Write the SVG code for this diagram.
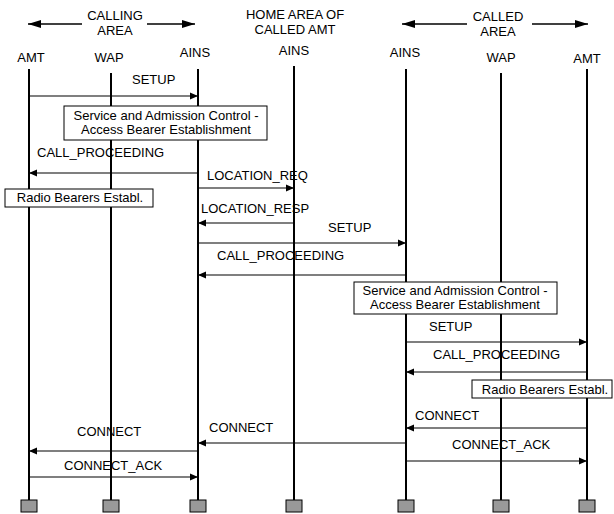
<svg xmlns="http://www.w3.org/2000/svg" width="614" height="514" viewBox="0 0 614 514">
<defs>
<marker id="ah" markerUnits="userSpaceOnUse" markerWidth="9" markerHeight="8" refX="8" refY="4" orient="auto">
<path d="M0,0.5 L8,4 L0,7.5 z" fill="#000"/>
</marker>
<marker id="hh" markerUnits="userSpaceOnUse" markerWidth="14" markerHeight="10" refX="13" refY="5" orient="auto">
<path d="M0,1 L13,5 L0,9 z" fill="#000"/>
</marker>
</defs>
<style>
text{font-family:"Liberation Sans",Arial,sans-serif;font-size:13px;fill:#000}
.c{text-anchor:middle}
.life{stroke:#000;stroke-width:2}
.msg{stroke:#000;stroke-width:1.2;fill:none;marker-end:url(#ah)}
.hdr{stroke:#000;stroke-width:1.5;fill:none;marker-end:url(#hh)}
.foot{fill:#999;stroke:#000;stroke-width:1}
.note{fill:#fff;stroke:#000;stroke-width:1}
</style>
<rect width="614" height="514" fill="#fff"/>
<g id="headers">
<text class="c" x="115" y="20">CALLING</text>
<text class="c" x="115" y="35">AREA</text>
<line class="hdr" x1="82" y1="24" x2="28" y2="24"/>
<line class="hdr" x1="147" y1="24" x2="195" y2="24"/>
<text class="c" x="295" y="19">HOME AREA OF</text>
<text class="c" x="295" y="34">CALLED AMT</text>
<text class="c" x="498" y="21">CALLED</text>
<text class="c" x="498" y="36">AREA</text>
<line class="hdr" x1="467" y1="24" x2="402" y2="24"/>
<line class="hdr" x1="532" y1="24" x2="588" y2="24"/>
</g>
<g id="connectors">
<line class="msg" x1="29" y1="96" x2="198" y2="96"/>
<text x="132" y="84">SETUP</text>
<line class="msg" x1="198" y1="173" x2="29" y2="173"/>
<text x="37" y="157">CALL_PROCEEDING</text>
<line class="msg" x1="198" y1="188" x2="294" y2="188"/>
<text x="207" y="180">LOCATION_REQ</text>
<line class="msg" x1="294" y1="223" x2="198" y2="223"/>
<text x="201" y="213">LOCATION_RESP</text>
<line class="msg" x1="198" y1="243" x2="406" y2="243"/>
<text x="328" y="232">SETUP</text>
<line class="msg" x1="406" y1="275" x2="198" y2="275"/>
<text x="217" y="260">CALL_PROCEEDING</text>
<line class="msg" x1="406" y1="342" x2="587" y2="342"/>
<text x="429" y="331">SETUP</text>
<line class="msg" x1="587" y1="372" x2="406" y2="372"/>
<text x="433" y="359">CALL_PROCEEDING</text>
<line class="msg" x1="587" y1="428" x2="406" y2="428"/>
<text x="415" y="420">CONNECT</text>
<line class="msg" x1="406" y1="443" x2="198" y2="443"/>
<text x="209" y="432">CONNECT</text>
<line class="msg" x1="198" y1="451" x2="29" y2="451"/>
<text x="77" y="436">CONNECT</text>
<line class="msg" x1="29" y1="477" x2="198" y2="477"/>
<text x="64" y="470">CONNECT_ACK</text>
<line class="msg" x1="406" y1="461" x2="587" y2="461"/>
<text x="452" y="449">CONNECT_ACK</text>
</g>
<g id="amt-calling">
<text class="c" x="31" y="62">AMT</text>
<line class="life" x1="29" y1="69" x2="29" y2="500"/>
<rect class="foot" x="21" y="500" width="16" height="12"/>
</g>
<g id="wap-calling">
<text class="c" x="109" y="62">WAP</text>
<line class="life" x1="111" y1="73" x2="111" y2="500"/>
<rect class="foot" x="103" y="500" width="16" height="12"/>
</g>
<g id="ains-calling">
<text class="c" x="195" y="57">AINS</text>
<line class="life" x1="198" y1="69" x2="198" y2="500"/>
<rect class="foot" x="190" y="500" width="16" height="12"/>
</g>
<g id="ains-home">
<text class="c" x="294" y="55">AINS</text>
<line class="life" x1="294" y1="66" x2="294" y2="500"/>
<rect class="foot" x="286" y="500" width="16" height="12"/>
</g>
<g id="ains-called">
<text class="c" x="405" y="57">AINS</text>
<line class="life" x1="406" y1="69" x2="406" y2="500"/>
<rect class="foot" x="398" y="500" width="16" height="12"/>
</g>
<g id="wap-called">
<text class="c" x="501" y="62">WAP</text>
<line class="life" x1="501" y1="73" x2="501" y2="500"/>
<rect class="foot" x="493" y="500" width="16" height="12"/>
</g>
<g id="amt-called">
<text class="c" x="587" y="63">AMT</text>
<line class="life" x1="587" y1="69" x2="587" y2="500"/>
<rect class="foot" x="579" y="500" width="16" height="12"/>
</g>
<g id="note-sac1">
<rect class="note" x="64" y="106" width="203" height="34"/>
<text class="c" x="166" y="120">Service and Admission Control -</text>
<text class="c" x="166" y="134">Access Bearer Establishment</text>
</g>
<g id="note-rb1">
<rect class="note" x="5" y="189" width="148" height="18"/>
<text class="c" x="80" y="202">Radio Bearers Establ.</text>
</g>
<g id="note-sac2">
<rect class="note" x="354" y="282" width="203" height="32"/>
<text class="c" x="455" y="295">Service and Admission Control -</text>
<text class="c" x="455" y="309">Access Bearer Establishment</text>
</g>
<g id="note-rb2">
<rect class="note" x="472" y="380" width="140" height="18"/>
<text class="c" x="545" y="394">Radio Bearers Establ.</text>
</g>
</svg>
